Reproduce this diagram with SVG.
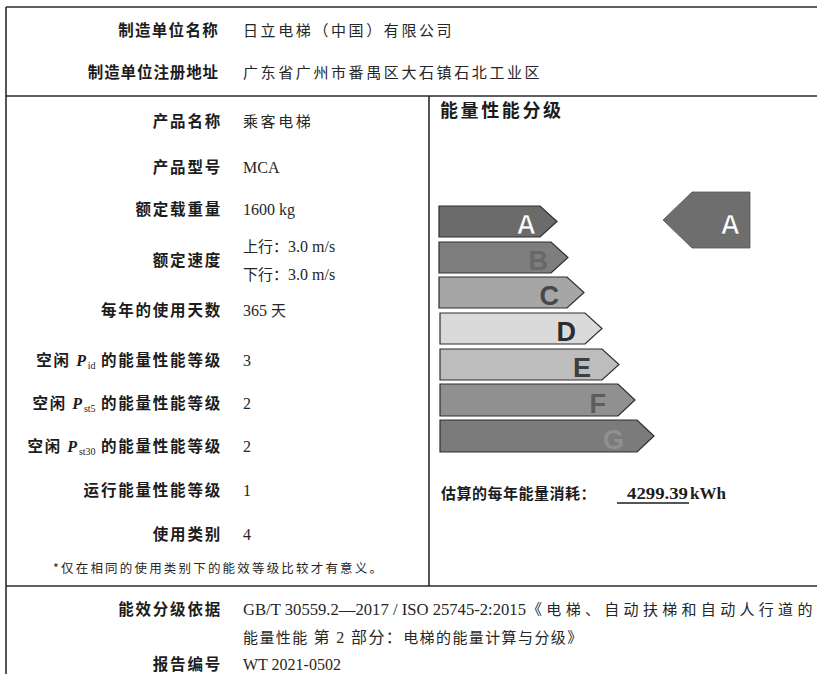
<svg xmlns="http://www.w3.org/2000/svg" width="817" height="674" viewBox="0 0 817 674">
<style>
.bg{fill:#ffffff}
.rule{stroke:#2a2a2a;stroke-width:1.6;fill:none}
.lbl{font-family:"Noto Sans CJK SC","Noto Sans",sans-serif;font-weight:700;font-size:15.5px;fill:#1c1c1c;text-anchor:end;letter-spacing:1.8px}
.val{font-family:"Noto Sans CJK SC",sans-serif;font-size:15px;fill:#262626;letter-spacing:2.6px}
.num{font-family:"Liberation Serif","Noto Sans CJK SC",serif;font-size:16px;fill:#262626}
.pi{font-family:"Liberation Serif",serif;font-style:italic;font-weight:700;font-size:16px}
.sub{font-family:"Liberation Serif",serif;font-size:10px;font-weight:400;letter-spacing:0}
.note{font-family:"Noto Sans CJK SC",sans-serif;font-size:12.5px;fill:#262626}
.ttl{font-family:"Noto Sans CJK SC",sans-serif;font-weight:700;font-size:18px;fill:#1c1c1c;letter-spacing:2.6px}
.bar{stroke:#2e2e2e;stroke-width:1.2}
.let{font-family:"Liberation Sans",Arial,sans-serif;font-weight:700;font-size:27px;text-anchor:end}
.kwh{font-family:"Liberation Serif",serif;font-weight:700;font-size:17px;fill:#1c1c1c}
</style>
<rect class="bg" x="0" y="0" width="817" height="674"/>
<g id="frame">
<line class="rule" x1="6" y1="7" x2="817" y2="7"/>
<line class="rule" x1="6" y1="7" x2="6" y2="674"/>
<line class="rule" x1="6" y1="96" x2="817" y2="96"/>
<line class="rule" x1="429" y1="96" x2="429" y2="586"/>
<line class="rule" x1="6" y1="586" x2="817" y2="586"/>
</g>
<g id="maker-name">
<text class="lbl" x="219" y="36" style="letter-spacing:1.3px">制造单位名称</text>
<text class="val" x="243" y="36">日立电梯（中国）有限公司</text>
</g>
<g id="maker-address">
<text class="lbl" x="219" y="78" style="letter-spacing:0.9px">制造单位注册地址</text>
<text class="val" x="243" y="78">广东省广州市番禺区大石镇石北工业区</text>
</g>
<g id="product-name">
<text class="lbl" x="222" y="127">产品名称</text>
<text class="val" x="243" y="127">乘客电梯</text>
</g>
<g id="product-model">
<text class="lbl" x="222" y="173">产品型号</text>
<text class="num" x="243" y="173">MCA</text>
</g>
<g id="rated-load">
<text class="lbl" x="222" y="215">额定载重量</text>
<text class="num" x="243" y="215">1600 kg</text>
</g>
<g id="rated-speed">
<text class="lbl" x="222" y="266">额定速度</text>
<text class="num" x="243" y="252"><tspan class="val" style="letter-spacing:0">上行：</tspan>3.0 m/s</text>
<text class="num" x="243" y="280"><tspan class="val" style="letter-spacing:0">下行：</tspan>3.0 m/s</text>
</g>
<g id="days-per-year">
<text class="lbl" x="222" y="316">每年的使用天数</text>
<text class="num" x="243" y="316">365 <tspan class="val">天</tspan></text>
</g>
<g id="idle-pid">
<text class="lbl" x="222" y="366">空闲 <tspan class="pi">P</tspan><tspan class="sub" dy="3">id</tspan><tspan dy="-3"> 的能量性能等级</tspan></text>
<text class="num" x="243" y="366">3</text>
</g>
<g id="idle-pst5">
<text class="lbl" x="222" y="409">空闲 <tspan class="pi">P</tspan><tspan class="sub" dy="3">st5</tspan><tspan dy="-3"> 的能量性能等级</tspan></text>
<text class="num" x="243" y="409">2</text>
</g>
<g id="idle-pst30">
<text class="lbl" x="222" y="452">空闲 <tspan class="pi">P</tspan><tspan class="sub" dy="3">st30</tspan><tspan dy="-3"> 的能量性能等级</tspan></text>
<text class="num" x="243" y="452">2</text>
</g>
<g id="running-class">
<text class="lbl" x="222" y="496">运行能量性能等级</text>
<text class="num" x="243" y="496">1</text>
</g>
<g id="usage-category">
<text class="lbl" x="222" y="540">使用类别</text>
<text class="num" x="243" y="540">4</text>
</g>
<g id="note">
<text class="note" x="53" y="573" textLength="329" lengthAdjust="spacing">*仅在相同的使用类别下的能效等级比较才有意义。</text>
</g>
<g id="rating-title">
<text class="ttl" x="440" y="117">能量性能分级</text>
</g>
<g id="scale-bars">
<polygon id="bar-A" class="bar" fill="#6b6b6b" points="439,206 540,206 557,221.5 540,237 439,237"/>
<text class="let" x="536" y="234" fill="#ffffff" stroke="#555" stroke-width="0.6">A</text>
<polygon id="bar-B" class="bar" fill="#7e7e7e" points="439,242 551,242 568,257.5 551,273 439,273"/>
<text class="let" x="548" y="270" fill="#686868">B</text>
<polygon id="bar-C" class="bar" fill="#a6a6a6" points="439,277 567,277 584,292.5 567,308 439,308"/>
<text class="let" x="559" y="305" fill="#484848">C</text>
<polygon id="bar-D" class="bar" fill="#dadada" points="440,313 585,313 602,328.5 585,344 440,344"/>
<text class="let" x="576" y="341" fill="#2c2c2c">D</text>
<polygon id="bar-E" class="bar" fill="#bdbdbd" points="440,349 602,349 619,364.5 602,380 440,380"/>
<text class="let" x="591" y="377" fill="#3e3e3e">E</text>
<polygon id="bar-F" class="bar" fill="#909090" points="440,384 618,384 635,400 618,416 440,416"/>
<text class="let" x="606" y="413" fill="#5c5c5c">F</text>
<polygon id="bar-G" class="bar" fill="#7b7b7b" points="440,420 637,420 654,436 637,452 440,452"/>
<text class="let" x="624" y="449" fill="#8f8f8f">G</text>
</g>
<g id="rating-marker">
<polygon fill="#6e6e6e" stroke="#555" stroke-width="0.8" points="663,220 692,192 750,192 750,248 692,248"/>
<text class="let" x="740" y="234" font-size="25" fill="#ffffff" stroke="#555" stroke-width="0.6">A</text>
</g>
<g id="annual-consumption">
<text class="ttl" x="441" y="499" style="font-size:15px;letter-spacing:0.5px">估算的每年能量消耗：</text>
<text class="kwh" x="627" y="499" textLength="61" lengthAdjust="spacingAndGlyphs">4299.39</text>
<line x1="617" y1="503" x2="689" y2="503" stroke="#1c1c1c" stroke-width="1.6"/>
<text class="kwh" x="690" y="499">kWh</text>
</g>
<g id="standard">
<text class="lbl" x="222" y="615">能效分级依据</text>
<text class="num" x="243" y="615" textLength="283" lengthAdjust="spacingAndGlyphs">GB/T 30559.2—2017 / ISO 25745-2:2015</text>
<text class="val" x="527" y="615" textLength="288" lengthAdjust="spacing">《电梯、自动扶梯和自动人行道的</text>
<text class="val" x="243" y="643" style="letter-spacing:1.4px">能量性能 <tspan class="num">第 2 部分：</tspan>电梯的能量计算与分级》</text>
</g>
<g id="report-number">
<text class="lbl" x="222" y="670">报告编号</text>
<text class="num" x="243" y="670">WT 2021-0502</text>
</g>
</svg>
